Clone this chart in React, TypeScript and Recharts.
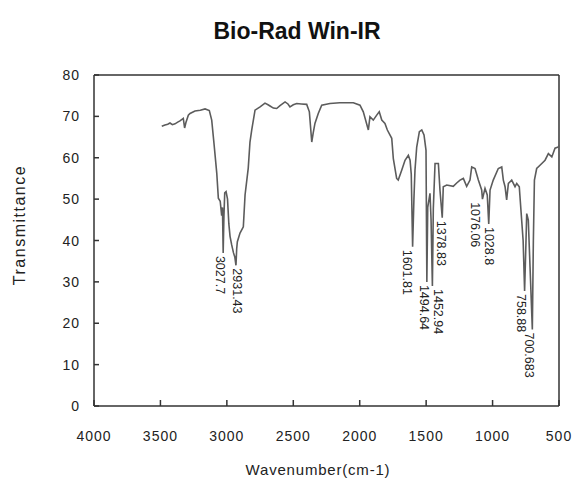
import React from 'react';
import { LineChart, Line, XAxis, YAxis, ReferenceLine, ReferenceDot } from 'recharts';

// IR spectrum, wavenumber (cm-1) descending
const wavenumbers = [
  3490, 3466, 3445, 3428, 3410, 3390, 3370, 3353, 3328, 3318, 3308, 3290, 3277, 3240, 3200, 3164, 3132, 3114,
  3097, 3076, 3064, 3050, 3039, 3033, 3027.7, 3022, 3016, 3006, 2995, 2985, 2976, 2964, 2950, 2940, 2931.43,
  2926, 2921, 2901, 2876, 2863, 2839, 2826, 2813, 2788, 2750, 2713, 2690, 2675, 2650, 2625, 2600, 2562, 2540,
  2525, 2500, 2474, 2440, 2399, 2379, 2361, 2350, 2337, 2312, 2286, 2224, 2150, 2048, 1998, 1973, 1935, 1923,
  1898, 1872, 1853, 1834, 1810, 1792, 1759, 1747, 1722, 1710, 1684, 1659, 1634, 1621, 1612, 1601.81, 1592,
  1584, 1571, 1551, 1533, 1516, 1501, 1494.64, 1488, 1471, 1463, 1452.94, 1446, 1433, 1408, 1396, 1378.83,
  1371, 1345, 1296, 1270, 1245, 1220, 1195, 1170, 1157, 1132, 1107, 1082, 1076.06, 1057, 1040, 1028.8, 1019,
  995, 957, 931, 919, 906, 894, 881, 856, 831, 818, 799, 781, 770, 758.88, 750, 743, 731, 718, 700.683, 693,
  685, 668, 643, 605, 580, 554, 530, 505, 500,
];
const transmittance = [
  67.6, 67.9, 68.1, 68.4, 68.0, 68.2, 68.6, 68.9, 69.5, 67.2, 68.5, 70.3, 70.7, 71.3, 71.5, 71.8, 71.4, 69.1,
  63.5, 56.3, 50.2, 49.5, 46, 48, 37, 46, 51.5, 51.8, 50, 44, 41, 39, 37, 36, 34,
  38, 39.7, 41.8, 43.3, 51, 57.5, 63.8, 66.7, 71.5, 72.3, 73.2, 72.8, 72.5, 72.0, 71.9, 72.6, 73.5, 73.0,
  72.3, 72.8, 73.1, 73.0, 72.9, 71.1, 63.8, 66.0, 68.3, 70.7, 72.7, 73.1, 73.3, 73.3, 72.7, 71.1, 66.7, 69.9,
  69.1, 70.3, 71.1, 69.1, 68.3, 66.7, 64.7, 59.8, 55, 54.6, 57, 59.4, 60.6, 59.4, 56, 38.5, 50,
  57, 62.6, 66.3, 66.7, 65.5, 61.8, 30, 48, 51.4, 45, 29, 47.7, 58.6, 58.6, 52.2, 45.5,
  53, 53.4, 53.1, 53.9, 54.6, 55, 53.1, 54.6, 57.8, 57.4, 54.6, 52.2, 50, 52.6, 51, 44, 52.2,
  54.6, 57.4, 57.8, 54.6, 53, 49.8, 53.8, 54.6, 53, 53.8, 53, 44.9, 40, 27.8, 38, 46.5, 44.9, 33.6, 18.5, 40,
  54.6, 57.4, 58.2, 59.4, 61, 60.2, 62.3, 62.6, 63,
];

const peakWavenumbers = [3027.7, 2931.43, 1601.81, 1494.64, 1452.94, 1378.83, 1076.06, 1028.8, 758.88, 700.683];
const peakValues = [37, 34, 38.5, 30, 29, 45.5, 50, 44, 27.8, 18.5];
const peakLabels = ['3027.7', '2931.43', '1601.81', '1494.64', '1452.94', '1378.83', '1076.06', '1028.8', '758.88', '700.683'];

const xTicks = [4000, 3500, 3000, 2500, 2000, 1500, 1000, 500];
const yTicks = [0, 10, 20, 30, 40, 50, 60, 70, 80];

const data = wavenumbers.map((wn, i) => ({ wn, t: transmittance[i] }));

// horizontal nudge of each peak label (px), labels were hand-placed in the original
const labelDx = [-3, 1, -6, -3, 6, -1, -7, 0, -4, -3];

const FONT = '"Liberation Sans", Arial, sans-serif';
const AXIS = '#333';

const XTick = ({ x, y, payload }: any) => (
  <g>
    <line x1={x} y1={y - 14} x2={x} y2={y - 20} stroke={AXIS} strokeWidth={1.5} />
    <text x={x} y={y} dy={21} textAnchor="middle" fontSize={14} letterSpacing={1} fontFamily={FONT} fill="#222">
      {payload.value}
    </text>
  </g>
);

const YTick = ({ x, y, payload }: any) => (
  <g>
    <line x1={x + 14} y1={y} x2={x + 19} y2={y} stroke={AXIS} strokeWidth={1.5} />
    <text x={x} y={y} dy={5} textAnchor="end" fontSize={14} letterSpacing={1} fontFamily={FONT} fill="#222">
      {payload.value}
    </text>
  </g>
);

const PeakLabel = (text: string, dx: number) => (props: any) => {
  const { cx, cy } = props;
  return (
    <text
      transform={`translate(${cx + dx},${cy + 3}) rotate(90)`}
      fontSize={12.5}
      fontFamily={FONT}
      fill="#222"
      dominantBaseline="central"
    >
      {text}
    </text>
  );
};

export default function App() {
  return (
    <div style={{ position: 'absolute', left: 0, top: 0, width: 574, height: 485, background: '#fff' }}>
      <svg width={574} height={485} style={{ position: 'absolute', left: 0, top: 0 }}>
        <text x={297} y={39} textAnchor="middle" fontSize={23} fontWeight="bold" fontFamily={FONT} fill="#111">
          Bio-Rad Win-IR
        </text>
        <text x={318} y={475} textAnchor="middle" fontSize={15} letterSpacing={0.8} fontFamily={FONT} fill="#222">
          Wavenumber(cm-1)
        </text>
        <text
          transform="translate(25,225) rotate(-90)"
          textAnchor="middle"
          fontSize={16}
          letterSpacing={1.5}
          fontFamily={FONT}
          fill="#222"
        >
          Transmittance
        </text>
      </svg>
      <div style={{ position: 'absolute', left: 0, top: 0 }}>
        <LineChart width={574} height={485} data={data} margin={{ top: 75, right: 15, bottom: 39, left: 0 }}>
          <XAxis
            dataKey="wn"
            type="number"
            domain={[500, 4000]}
            reversed
            ticks={xTicks}
            interval={0}
            height={40}
            tickLine={false}
            tickSize={0}
            tickMargin={14}
            tick={<XTick />}
            axisLine={{ stroke: AXIS, strokeWidth: 1.5 }}
          />
          <YAxis
            type="number"
            domain={[0, 80]}
            ticks={yTicks}
            interval={0}
            width={94}
            tickLine={false}
            tickSize={0}
            tickMargin={14}
            tick={<YTick />}
            axisLine={{ stroke: AXIS, strokeWidth: 1.5 }}
          />
          <ReferenceLine y={80} stroke={AXIS} strokeWidth={1.5} />
          <ReferenceLine x={500} stroke={AXIS} strokeWidth={1.5} />
          <Line
            type="linear"
            dataKey="t"
            stroke="#5c5c5c"
            strokeWidth={1.6}
            dot={false}
            isAnimationActive={false}
          />
          {peakWavenumbers.map((wn, i) => (
            <ReferenceDot
              key={peakLabels[i]}
              x={wn}
              y={peakValues[i]}
              r={0}
              ifOverflow="visible"
              shape={PeakLabel(peakLabels[i], labelDx[i])}
            />
          ))}
        </LineChart>
      </div>
    </div>
  );
}
